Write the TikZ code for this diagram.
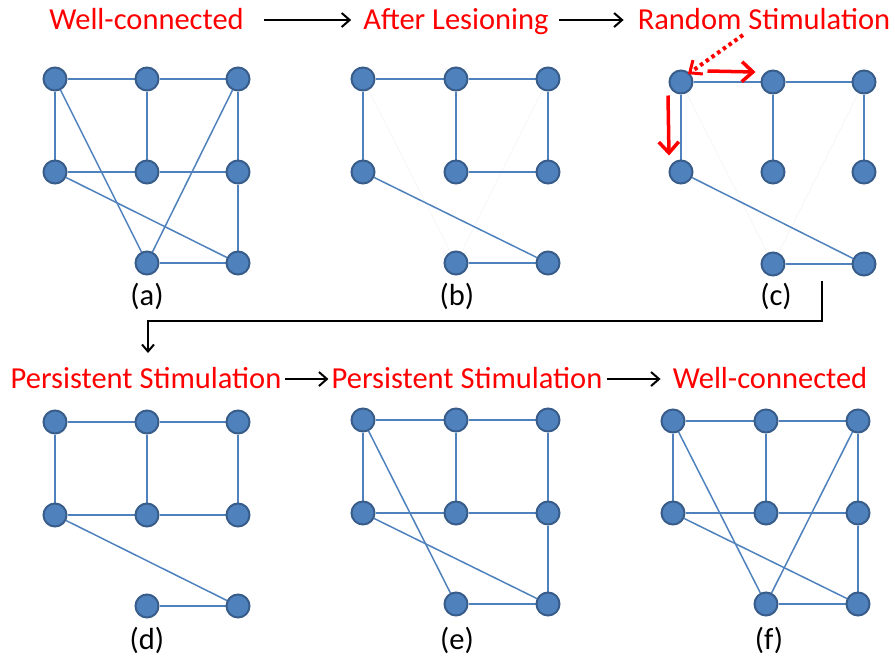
\documentclass[tikz,border=0pt]{standalone}
\usepackage{fontspec}
\setmainfont{Carlito}
\usetikzlibrary{arrows.meta,backgrounds}

\definecolor{nodeblue}{RGB}{79,129,189}
\definecolor{nodeedge}{RGB}{56,93,138}
\definecolor{hintred}{RGB}{255,0,0}

\tikzset{
  vtx/.style={circle,minimum size=23pt,inner sep=0pt,fill=nodeblue,draw=nodeedge,line width=2pt},
  link/.style={draw=nodeblue,line width=1.5pt},
  ghost/.style={draw=black!3,line width=1pt},
  title/.style={text=hintred,font=\fontsize{30.5}{36}\selectfont,anchor=base,inner sep=0pt},
  caption/.style={font=\fontsize{30.5}{36}\selectfont,inner sep=0pt},
  flow/.style={draw=black,line width=2pt,-{Straight Barb[length=8pt,width=14pt,line width=2pt]}},
  push/.style={draw=hintred,line width=3.5pt,-{Straight Barb[length=11pt,width=20pt,line width=3.5pt]}},
  hint/.style={draw=hintred,line width=4pt,dash pattern=on 3.5pt off 3.5pt,-{Straight Barb[length=10pt,width=17pt,line width=3pt]}},
}

% eight neurons of one panel: prefix, three columns, three rows
\newcommand\netnodes[7]{%
  \node[vtx] (#1TL) at (#2,#5) {};
  \node[vtx] (#1TM) at (#3,#5) {};
  \node[vtx] (#1TR) at (#4,#5) {};
  \node[vtx] (#1ML) at (#2,#6) {};
  \node[vtx] (#1MM) at (#3,#6) {};
  \node[vtx] (#1MR) at (#4,#6) {};
  \node[vtx] (#1BM) at (#3,#7) {};
  \node[vtx] (#1BR) at (#4,#7) {};
}

% links shared by every panel
\newcommand\baselinks[1]{%
  \draw[link] (#1TL) -- (#1TM);
  \draw[link] (#1TM) -- (#1TR);
  \draw[link] (#1TL) -- (#1ML);
  \draw[link] (#1TM) -- (#1MM);
  \draw[link] (#1TR) -- (#1MR);
  \draw[link] (#1ML) -- (#1BR);
  \draw[link] (#1BM) -- (#1BR);
}

\begin{document}
\begin{tikzpicture}[x=1pt,y=-1pt]
\useasboundingbox (0,0) rectangle (895,657);

% ---- headings ----
\node[title] (h1) at (146.5,29) {Well-connected};
\node[title] (h2) at (456,29) {After Lesioning};
\node[title] (h3) at (764,29) {Random Stimulation};
\node[title] (h4) at (146,388) {Persistent Stimulation};
\node[title] (h5) at (467,388) {Persistent Stimulation};
\node[title] (h6) at (770,388) {Well-connected};

\draw[flow] ([xshift=20pt,yshift=9pt]h1.base east) -- ([xshift=-12pt,yshift=9pt]h2.base west);
\draw[flow] ([xshift=10pt,yshift=9pt]h2.base east) -- ([xshift=-14pt,yshift=9pt]h3.base west);
\draw[flow] ([xshift=3pt,yshift=9pt]h4.base east) -- ([xshift=-3pt,yshift=9pt]h5.base west);
\draw[flow] ([xshift=4pt,yshift=9pt]h5.base east) -- ([xshift=-12pt,yshift=9pt]h6.base west);

% ---- panels ----
\netnodes{a}{55}{147}{238}{79}{172}{263}
\netnodes{b}{363}{456}{548}{79}{172}{263}
\netnodes{c}{681}{773}{864}{82}{172}{264}
\netnodes{d}{55}{147}{238}{422}{515}{606}
\netnodes{e}{363}{456}{548}{420}{513}{604}
\netnodes{f}{673}{766}{858}{421}{513}{604}

\node[caption] (la) at (147,296) {(a)};
\node[caption] (lb) at (457,296) {(b)};
\node[caption] (lc) at (776,296) {(c)};
\node[caption] (ld) at (147,640) {(d)};
\node[caption] (le) at (457,640) {(e)};
\node[caption] (lf) at (769,640) {(f)};

\begin{scope}[on background layer]
  % traces of the cut links, drawn first so live links lie over them
  \draw[ghost] (bTL) -- (bBM);
  \draw[ghost] (bTR) -- (bBM);
  \draw[ghost] (cTL) -- (cBM);
  \draw[ghost] (cTR) -- (cBM);
  % (a) fully connected
  \baselinks{a}
  \draw[link] (aML) -- (aMM);
  \draw[link] (aMM) -- (aMR);
  \draw[link] (aMR) -- (aBR);
  \draw[link] (aTL) -- (aBM);
  \draw[link] (aTR) -- (aBM);
  % (b) after lesioning
  \baselinks{b}
  \draw[link] (bMM) -- (bMR);
  % (c) random stimulation
  \baselinks{c}
  % (d) persistent stimulation
  \baselinks{d}
  \draw[link] (dML) -- (dMM);
  \draw[link] (dMM) -- (dMR);
  % (e) persistent stimulation
  \baselinks{e}
  \draw[link] (eML) -- (eMM);
  \draw[link] (eMM) -- (eMR);
  \draw[link] (eMR) -- (eBR);
  \draw[link] (eTL) -- (eBM);
  % (f) well-connected again
  \baselinks{f}
  \draw[link] (fML) -- (fMM);
  \draw[link] (fMM) -- (fMR);
  \draw[link] (fMR) -- (fBR);
  \draw[link] (fTL) -- (fBM);
  \draw[link] (fTR) -- (fBM);
\end{scope}

% ---- stimulation cues in (c) ----
\coordinate (spark) at (743,35);
\draw[hint] (spark) -- ([xshift=-2pt,yshift=-1pt]cTL.north east);
\draw[push] ([xshift=14pt,yshift=11pt]cTL.east) -- ([xshift=-5pt,yshift=10pt]cTM.west);
\draw[push] ([xshift=-13pt,yshift=-1pt]cTL.south) -- ([xshift=-12pt,yshift=4pt]cML.north);

% ---- from (c) down to (d) ----
\coordinate (turnA) at (822,281);
\coordinate (turnB) at (148,353);
\draw[draw=black,line width=2pt,-{Straight Barb[length=7pt,width=12pt,line width=2pt]}]
  (turnA) |- (148,321) -- (turnB);
\end{tikzpicture}
\end{document}
